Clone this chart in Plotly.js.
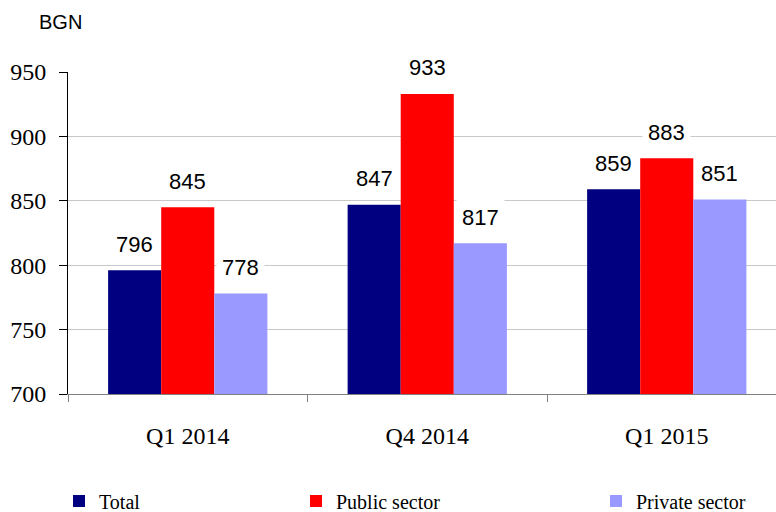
<!DOCTYPE html>
<html>
<head>
<meta charset="utf-8">
<script src="https://cdn.plot.ly/plotly-3.0.1.min.js"></script>
<style>html,body{margin:0;padding:0;background:#fff;}#chart{width:776px;height:512px;}</style>
</head>
<body>
<div id="chart"></div>
<script>
const categories = ["Q1 2014", "Q4 2014", "Q1 2015"];
const totalValues = [796, 847, 859];
const publicValues = [845, 933, 883];
const privateValues = [778, 817, 851];
const seriesNames = ["Total", "Public sector", "Private sector"];
const yTicks = [700, 750, 800, 850, 900, 950];

const colors = ["#000080", "#FF0000", "#9999FF"];
const seriesValues = [totalValues, publicValues, privateValues];
const legendIds = ["legend", "legend2", "legend3"];

const traces = seriesValues.map((vals, i) => ({
  type: "bar",
  x: categories,
  y: vals,
  name: seriesNames[i],
  marker: { color: colors[i], line: { width: 0 } },
  legend: legendIds[i],
  hoverinfo: "none"
}));

const W = 776, H = 512, L = 68, R = 0, T = 72, B = 118;
const pw = W - L - R, ph = H - T - B;

const nSeries = seriesValues.length;
const groupWidth = 0.665;
const barW = groupWidth / nSeries;
const annotations = [];
seriesValues.forEach((vals, i) => {
  vals.forEach((v, j) => {
    annotations.push({
      x: j - groupWidth / 2 + barW * (i + 0.5),
      y: v,
      xref: "x", yref: "y",
      text: String(v),
      showarrow: false,
      yanchor: "middle",
      yshift: 26,
      bgcolor: "#ffffff",
      borderpad: 5,
      font: { family: "Liberation Sans, Arial, sans-serif", size: 22, color: "#000" }
    });
  });
});
annotations.push({
  x: (60 - L) / pw, y: (H - B - 22) / ph, xref: "paper", yref: "paper",
  text: "BGN", showarrow: false, xanchor: "center", yanchor: "middle",
  font: { family: "Liberation Sans, Arial, sans-serif", size: 20, color: "#000" }
});

const serif = "Liberation Serif";
const legendFont = { family: serif, size: 20, color: "#000" };
const legendPx = [59, 296, 596];
const legendY = (H - B - 501) / ph;
const layout = {
  width: W, height: H,
  margin: { l: L, r: R, t: T, b: B, autoexpand: false },
  paper_bgcolor: "#fff", plot_bgcolor: "#fff",
  barmode: "group",
  bargap: 1 - groupWidth,
  bargroupgap: 0,
  showlegend: true,
  xaxis: {
    type: "category",
    range: [-0.5, -0.5 + pw / 239.5],
    tickson: "boundaries",
    ticks: "outside", ticklen: 7, tickcolor: "#808080", tickwidth: 1,
    showline: true, linecolor: "#808080", linewidth: 1,
    showgrid: false,
    ticklabelstandoff: 20,
    tickfont: { family: serif, size: 24, color: "#000" }
  },
  yaxis: {
    range: [700, 950],
    tickvals: yTicks,
    ticks: "outside", ticklen: 8, tickcolor: "#000", tickwidth: 1,
    showline: true, linecolor: "#000", linewidth: 1,
    showgrid: true, gridcolor: "#c8c8c8", gridwidth: 1,
    zeroline: false,
    ticklabelstandoff: 8,
    tickfont: { family: serif, size: 24, color: "#000" }
  },
  annotations: annotations
};
legendIds.forEach((id, i) => {
  layout[id] = {
    x: (legendPx[i] - L) / pw, y: legendY,
    xanchor: "left", yanchor: "middle",
    orientation: "h",
    bgcolor: "rgba(0,0,0,0)",
    font: legendFont,
    itemwidth: 30
  };
});

Plotly.newPlot("chart", traces, layout, { staticPlot: true, displayModeBar: false });
</script>
</body>
</html>
